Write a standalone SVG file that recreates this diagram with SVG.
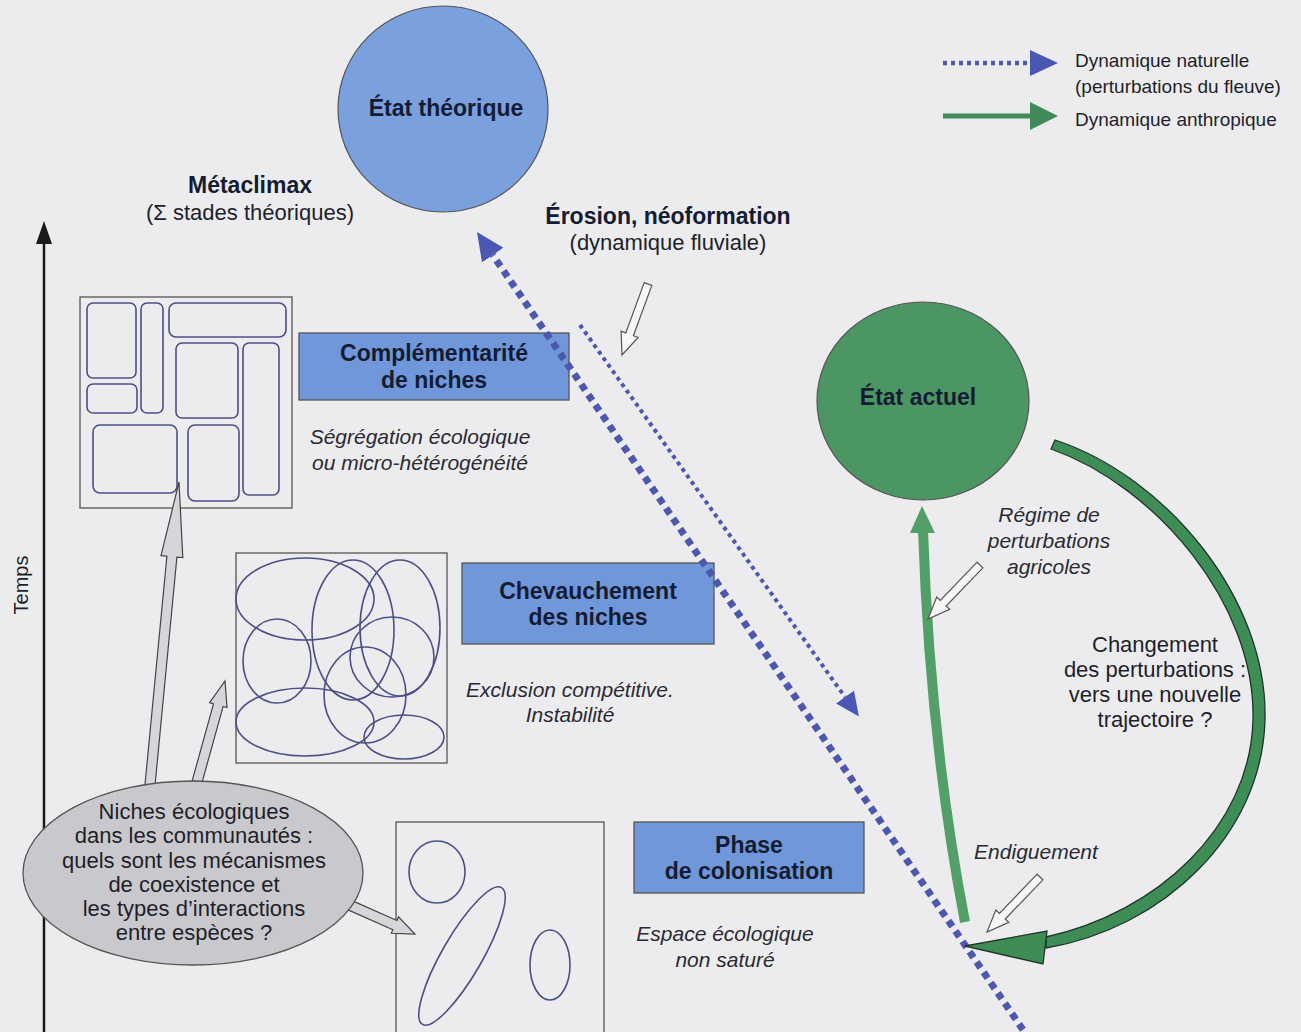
<svg xmlns="http://www.w3.org/2000/svg" width="1301" height="1032" viewBox="0 0 1301 1032">
  <style>
    text { font-family: "Liberation Sans", Arial, sans-serif; fill: #1e1f2a; }
    .lbl { font-size: 22px; text-anchor: middle; }
    .leg { font-size: 19px; }
    .bold { font-weight: bold; font-size: 23px; text-anchor: middle; fill: #141c33; }
    .it { font-style: italic; font-size: 21px; text-anchor: middle; fill: #2a2a33; }
    .frame { fill: none; stroke: #555; stroke-width: 1.3; }
    .tag { fill: #6f97d9; stroke: #555; stroke-width: 1.3; }
    .niche { fill: none; stroke: #4c4f86; stroke-width: 1.6; }
    .grey-arrow { fill: #d6d6da; stroke: #444; stroke-width: 1.2; stroke-linejoin: miter; }
    .white-arrow { fill: #f7f7f7; stroke: #555; stroke-width: 1.2; }
    .nat-big { fill: none; stroke: #4d57ad; stroke-width: 7; stroke-dasharray: 7 5.5; }
    .nat-small { fill: none; stroke: #4d57ad; stroke-width: 4; stroke-dasharray: 4 4; }
  </style>
  <defs>
    <marker id="headBlue" viewBox="0 0 28 26" refX="0" refY="13" markerWidth="28" markerHeight="26" markerUnits="userSpaceOnUse" orient="auto">
      <path d="M0,0 L28,13 L0,26 Z" fill="#4a58b4"/>
    </marker>
    <marker id="headBlueSmall" viewBox="0 0 24 22" refX="0" refY="11" markerWidth="24" markerHeight="22" markerUnits="userSpaceOnUse" orient="auto">
      <path d="M0,0 L24,11 L0,22 Z" fill="#4a58b4"/>
    </marker>
    <marker id="headGreen" viewBox="0 0 28 28" refX="0" refY="14" markerWidth="28" markerHeight="28" markerUnits="userSpaceOnUse" orient="auto">
      <path d="M0,0 L28,14 L0,28 Z" fill="#3f8a58"/>
    </marker>
  </defs>

  <rect x="0" y="0" width="1301" height="1032" fill="#ececee"/>

  <!-- legend -->
  <g id="legend">
    <path d="M943,63 L1030,63" stroke="#4d57ad" stroke-width="4.5" stroke-dasharray="4 4" fill="none" marker-end="url(#headBlue)"/>
    <path d="M943,116 L1030,116" stroke="#3f8a58" stroke-width="5" fill="none" marker-end="url(#headGreen)"/>
    <text class="leg" x="1075" y="67">Dynamique naturelle</text>
    <text class="leg" x="1075" y="93">(perturbations du fleuve)</text>
    <text class="leg" x="1075" y="126">Dynamique anthropique</text>
  </g>

  <!-- time axis -->
  <g id="axe-temps">
    <line x1="44" y1="240" x2="44" y2="1032" stroke="#1a1a1a" stroke-width="2.5"/>
    <polygon points="44,221 36,244 52,244" fill="#1a1a1a"/>
    <text class="lbl" font-size="20" transform="translate(28,585) rotate(-90)" style="font-size:20px">Temps</text>
  </g>

  <!-- theoretical state -->
  <g id="etat-theorique">
    <ellipse cx="443" cy="109" rx="105" ry="103" fill="#7aa0dd" stroke="#555" stroke-width="1.2"/>
    <text class="bold" x="446" y="116">État théorique</text>
  </g>

  <g id="metaclimax">
    <text class="bold" x="250" y="193">Métaclimax</text>
    <text class="lbl" x="250" y="220">(Σ stades théoriques)</text>
  </g>

  <g id="erosion">
    <text class="bold" x="668" y="224">Érosion, néoformation</text>
    <text class="lbl" x="668" y="250">(dynamique fluviale)</text>
  </g>

  <!-- niche complementarity -->
  <g id="schema-complementarite">
    <rect class="frame" x="80" y="297" width="212" height="211"/>
    <rect class="niche" x="87" y="303" width="49" height="75" rx="6"/>
    <rect class="niche" x="87" y="384" width="50" height="29" rx="6"/>
    <rect class="niche" x="141" y="303" width="22" height="110" rx="6"/>
    <rect class="niche" x="169" y="303" width="117" height="34" rx="7"/>
    <rect class="niche" x="176" y="343" width="62" height="75" rx="6"/>
    <rect class="niche" x="243" y="343" width="36" height="152" rx="6"/>
    <rect class="niche" x="93" y="425" width="84" height="68" rx="7"/>
    <rect class="niche" x="188" y="425" width="51" height="76" rx="7"/>
  </g>
  <g id="complementarite">
    <rect class="tag" x="299" y="333" width="270" height="67"/>
    <text class="bold" x="434" y="361">Complémentarité</text>
    <text class="bold" x="434" y="388">de niches</text>
    <text class="it" x="420" y="444">Ségrégation écologique</text>
    <text class="it" x="420" y="470">ou micro-hétérogénéité</text>
  </g>

  <!-- niche overlap -->
  <g id="schema-chevauchement">
    <rect class="frame" x="236" y="553" width="211" height="210"/>
    <ellipse class="niche" cx="305" cy="599" rx="69" ry="41"/>
    <ellipse class="niche" cx="353" cy="630" rx="41" ry="70"/>
    <ellipse class="niche" cx="400" cy="628" rx="40" ry="68"/>
    <ellipse class="niche" cx="277" cy="661" rx="34" ry="42"/>
    <ellipse class="niche" cx="392" cy="657" rx="42" ry="40"/>
    <ellipse class="niche" cx="365" cy="695" rx="41" ry="48"/>
    <ellipse class="niche" cx="305" cy="722" rx="69" ry="34"/>
    <ellipse class="niche" cx="404" cy="737" rx="40" ry="22"/>
  </g>
  <g id="chevauchement">
    <rect class="tag" x="462" y="563" width="252" height="81"/>
    <text class="bold" x="588" y="599">Chevauchement</text>
    <text class="bold" x="588" y="625">des niches</text>
    <text class="it" x="570" y="697">Exclusion compétitive.</text>
    <text class="it" x="570" y="722">Instabilité</text>
  </g>

  <!-- colonisation -->
  <g id="schema-colonisation">
    <rect class="frame" x="396" y="822" width="208" height="215"/>
    <ellipse class="niche" cx="437" cy="872" rx="28" ry="31"/>
    <ellipse class="niche" cx="462" cy="956" rx="20" ry="79" transform="rotate(30 462 956)"/>
    <ellipse class="niche" cx="550" cy="965" rx="20" ry="35"/>
  </g>
  <g id="colonisation">
    <rect class="tag" x="634" y="822" width="230" height="71"/>
    <text class="bold" x="749" y="853">Phase</text>
    <text class="bold" x="749" y="879">de colonisation</text>
    <text class="it" x="725" y="941">Espace écologique</text>
    <text class="it" x="725" y="967">non saturé</text>
  </g>

  <!-- current state -->
  <g id="etat-actuel">
    <ellipse cx="923" cy="401" rx="106" ry="99" fill="#4b9662" stroke="#555" stroke-width="1.2"/>
    <text class="bold" x="918" y="405">État actuel</text>
  </g>

  <g id="regime">
    <text class="it" x="1049" y="522">Régime de</text>
    <text class="it" x="1049" y="548">perturbations</text>
    <text class="it" x="1049" y="574">agricoles</text>
  </g>
  <g id="changement">
    <text class="lbl" x="1155" y="652">Changement</text>
    <text class="lbl" x="1155" y="677">des perturbations :</text>
    <text class="lbl" x="1155" y="702">vers une nouvelle</text>
    <text class="lbl" x="1155" y="727">trajectoire ?</text>
  </g>
  <g id="endiguement">
    <text class="it" x="1036" y="859">Endiguement</text>
  </g>

  <!-- connectors -->
  <g id="connectors">
    <!-- natural dynamics (river disturbances) -->
    <path class="nat-big" d="M1030,1040 L492.8,255.1" marker-end="url(#headBlue)"/>
    <path class="nat-small" d="M580,325 L845,697" marker-end="url(#headBlueSmall)"/>

    <!-- anthropogenic dynamics -->
    <path d="M965,922 Q930,740 923,530" fill="none" stroke="#52a067" stroke-width="10"/>
    <polygon points="922,506 910,533 935,533" fill="#52a067"/>
    <path d="M1055,440 C1165,476 1268,598 1265,720 C1262,834 1164,928 1046,948 L1046,937 C1156,913 1250,828 1253,720 C1256,604 1156,486 1051,449 Z" fill="#3e8c56" stroke="#1f3527" stroke-width="1.3"/>
    <polygon points="965,946 1047,931 1043,964" fill="#3e8c56" stroke="#1f3527" stroke-width="1.3" stroke-linejoin="miter"/>

    <!-- open arrows -->
    <polygon class="white-arrow" points="644.2,282.6 625.8,332.9 621.1,331.2 622,355 638.1,337.4 633.4,335.7 651.8,285.4"/>
    <polygon class="white-arrow" points="977.1,562.2 940.3,600.4 936.7,597 928,619 949.7,609.4 946.1,606 982.9,567.8"/>
    <polygon class="white-arrow" points="1037.1,874.2 999.4,913.4 995.8,910 987,932 1008.8,922.4 1005.2,919 1042.9,879.8"/>

    <!-- from the question bubble to the niche stages -->
    <polygon class="grey-arrow" points="145,784.5 166.9,556.2 161,555.7 179,482 182.8,557.7 176.9,557.2 155,785.5"/>
    <polygon class="grey-arrow" points="192.2,780.7 213.5,703.8 209.6,702.7 225,681 227,707.5 223.1,706.4 201.8,783.3"/>
    <polygon class="grey-arrow" points="347,898.4 396.9,920.5 398.5,916.9 415,934 391.3,933.3 392.9,929.7 343,907.6"/>
  </g>

  <!-- question bubble -->
  <g id="question">
    <ellipse cx="193" cy="873" rx="170" ry="92" fill="#c9c9cd" stroke="#555" stroke-width="1.3"/>
    <text class="lbl" x="194" y="819">Niches écologiques</text>
    <text class="lbl" x="194" y="843">dans les communautés :</text>
    <text class="lbl" x="194" y="868">quels sont les mécanismes</text>
    <text class="lbl" x="194" y="892">de coexistence et</text>
    <text class="lbl" x="194" y="916">les types d’interactions</text>
    <text class="lbl" x="194" y="940">entre espèces ?</text>
  </g>
</svg>
